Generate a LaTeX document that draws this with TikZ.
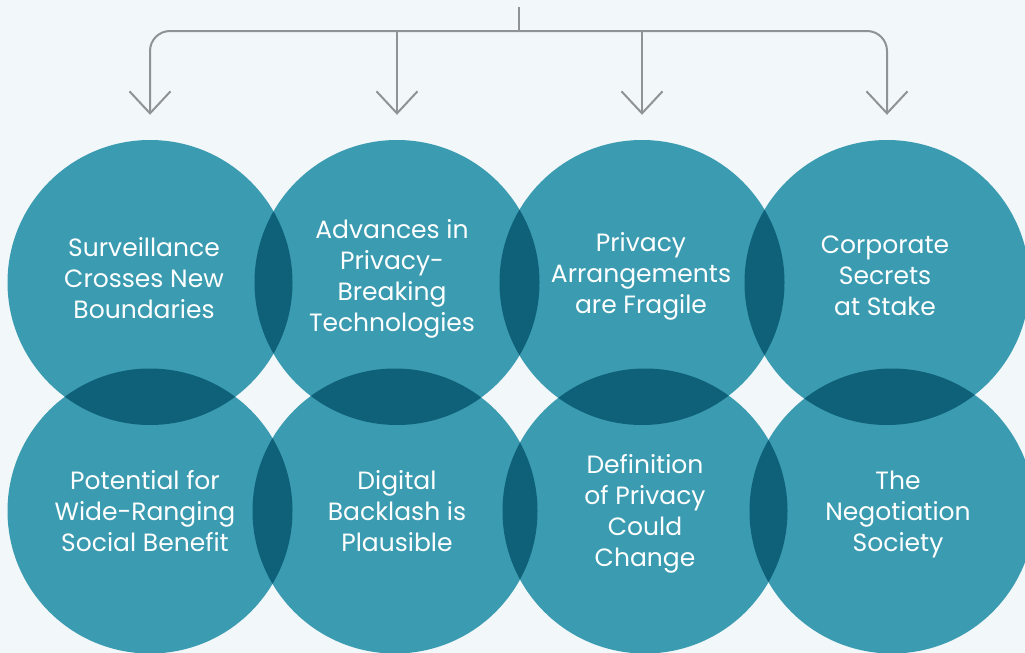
\documentclass[tikz,border=0pt]{standalone}
\usepackage{fontspec}
\setmainfont{Poppins}
\usetikzlibrary{arrows.meta}
\definecolor{tealfill}{HTML}{3A9BB1}
\definecolor{tealdark}{HTML}{0F617A}
\definecolor{paper}{HTML}{F2F7FA}
\definecolor{bracketgray}{HTML}{8F9297}
\tikzset{
  bubble/.style={circle,fill=tealfill,minimum size=285pt,inner sep=0pt},
  lbl/.style={text=white,align=center,font=\fontsize{25}{31}\selectfont},
  link/.style={draw=bracketgray,line width=2pt},
  tip/.style={-{Straight Barb[length=22pt,width=41pt]},shorten >=25pt},
}
\begin{document}
\begin{tikzpicture}[x=1pt,y=-1pt]
\fill[paper] (0,0) rectangle (1025,653);
\useasboundingbox (0,0) rectangle (1025,653);
\foreach \n/\x/\y in {t1/150/282.5,t2/397/282.5,t3/642/282.5,t4/887/282.5,
                     b1/150/511,b2/395/511,b3/645/511,b4/892/511}
  \node[bubble] (\n) at (\x,\y) {};
% overlaps
\foreach \a/\b in {t1/t2,t2/t3,t3/t4,b1/b2,b2/b3,b3/b4,t1/b1,t2/b2,t3/b3,t4/b4}{
  \begin{scope}
    \clip (\a.center) circle (142.5);
    \fill[tealdark] (\b.center) circle (142.5);
  \end{scope}
}
\node[lbl] (l1) at (144,278) {Surveillance\\Crosses New\\Boundaries};
\node[lbl] (l2) at (392,279) {Advances in\\Privacy-\\Breaking\\Technologies};
\node[lbl] (l3) at (641,276) {Privacy\\Arrangements\\are Fragile};
\node[lbl] (l4) at (885,276) {Corporate\\Secrets\\at Stake};
\node[lbl] (l5) at (145,511) {Potential for\\Wide-Ranging\\Social Benefit};
\node[lbl] (l6) at (397,511) {Digital\\Backlash is\\Plausible};
\node[lbl] (l7) at (645,514) {Definition\\of Privacy\\Could\\Change};
\node[lbl] (l8) at (898,514) {The\\Negotiation\\Society};
% bracket
\coordinate (stem) at (519,7);
\coordinate (hub) at (519,31);
\draw[link] (stem) -- (hub);
\draw[link,tip,rounded corners=20pt] (hub) -| (t1.north);
\draw[link,tip,rounded corners=20pt] (hub) -| (t4.north);
\draw[link,tip] (t2.north |- hub) -- (t2.north);
\draw[link,tip] (t3.north |- hub) -- (t3.north);
\end{tikzpicture}
\end{document}
